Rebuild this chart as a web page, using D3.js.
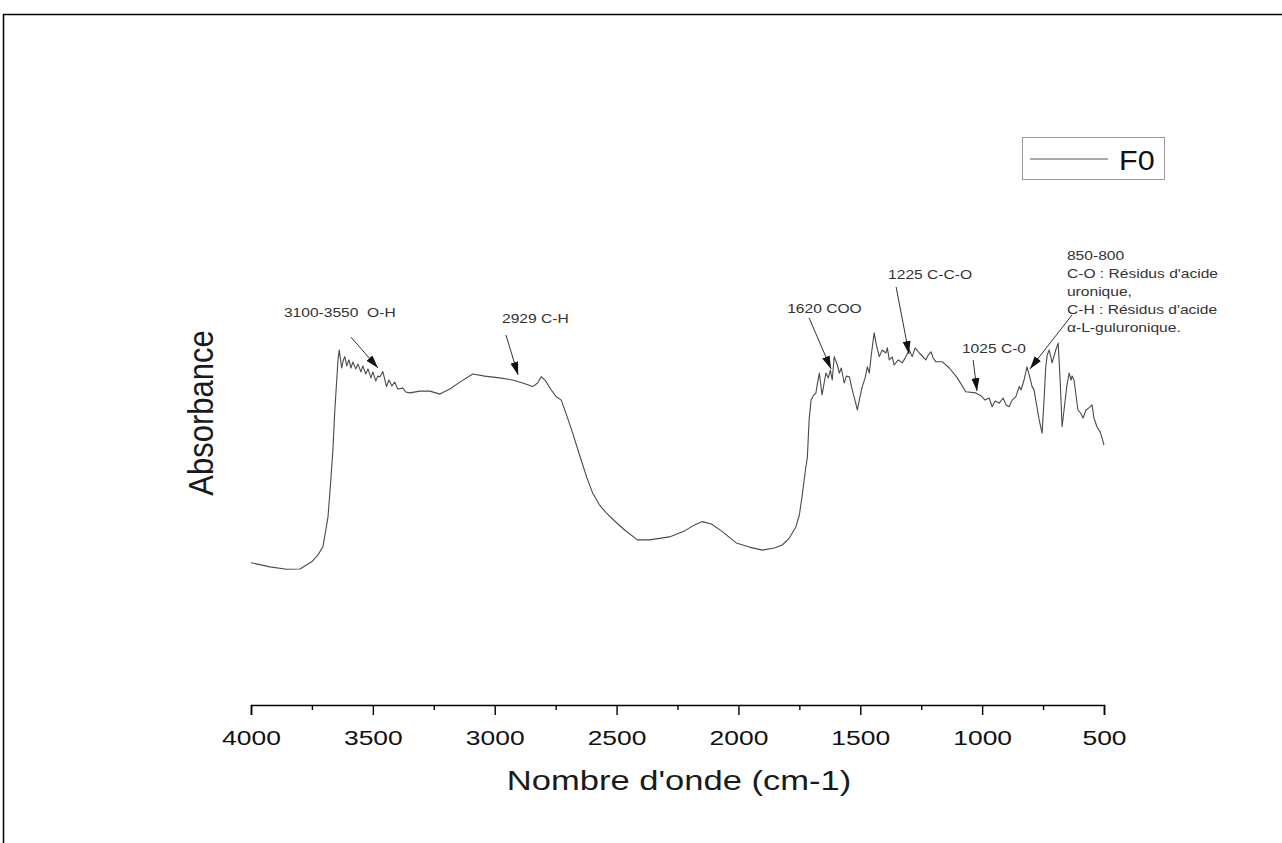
<!DOCTYPE html>
<html>
<head>
<meta charset="utf-8">
<script src="https://cdn.jsdelivr.net/npm/d3@7"></script>
<style>
  html, body { margin: 0; padding: 0; background: #fff; }
  svg { display: block; font-family: Arial, "Liberation Sans", sans-serif; }
  text { white-space: pre; }
</style>
</head>
<body>
<svg id="chart" width="1282" height="843"></svg>
<script>
// ---- data ----
const wavenumbers = [4000,3922,3854,3799,3751,3725,3705,3693,3684,3674,3664,3656,3649,3643,3638,3628,3621,3615,3607,3598,3590,3582,3570,3561,3549,3541,3529,3520,3508,3500,3488,3480,3471,3459,3444,3434,3422,3410,3398,3377,3365,3348,3307,3266,3225,3184,3143,3090,3041,2980,2926,2885,2844,2824,2809,2791,2771,2747,2727,2705,2680,2652,2623,2598,2570,2542,2508,2467,2414,2365,2283,2221,2180,2148,2111,2070,2009,1955,1902,1852,1820,1791,1764,1750,1738,1725,1717,1710,1702,1693,1682,1677,1668,1657,1652,1641,1631,1623,1615,1607,1594,1586,1578,1566,1557,1545,1533,1520,1512,1504,1492,1480,1471,1463,1455,1443,1434,1422,1410,1395,1389,1381,1369,1361,1344,1328,1316,1299,1287,1275,1258,1246,1231,1221,1210,1201,1190,1164,1135,1102,1067,1026,1004,988,971,959,947,930,914,902,889,877,862,848,840,828,816,807,795,787,780,766,754,746,739,733,725,717,713,705,698,688,680,672,664,652,643,635,631,623,615,607,596,586,574,562,549,541,529,516,508,500];
const absorbanceF0 = [.191,.177,.169,.170,.194,.217,.244,.300,.344,.45,.567,.70,.79,.867,.90,.84,.867,.878,.847,.867,.84,.86,.837,.853,.827,.847,.82,.837,.807,.827,.797,.813,.811,.828,.778,.80,.78,.793,.77,.773,.76,.757,.763,.763,.753,.77,.793,.82,.813,.807,.80,.79,.778,.79,.811,.797,.77,.744,.733,.683,.623,.55,.477,.423,.383,.357,.33,.30,.267,.267,.277,.297,.317,.328,.32,.297,.257,.243,.233,.24,.25,.273,.311,.35,.417,.50,.544,.667,.733,.747,.757,.783,.823,.75,.773,.823,.807,.833,.80,.878,.85,.823,.84,.79,.813,.811,.767,.727,.70,.733,.778,.807,.844,.823,.883,.957,.917,.878,.90,.89,.907,.867,.877,.85,.867,.857,.873,.90,.878,.907,.89,.88,.867,.883,.894,.873,.861,.861,.84,.807,.761,.757,.747,.733,.74,.711,.73,.723,.74,.717,.711,.733,.744,.778,.767,.80,.844,.817,.778,.767,.733,.667,.623,.733,.844,.883,.90,.873,.857,.88,.90,.923,.80,.644,.70,.783,.823,.80,.813,.80,.75,.70,.69,.673,.70,.707,.717,.673,.644,.627,.607,.583];
const majorTicks = [4000,3500,3000,2500,2000,1500,1000,500];
const tickLabels = ["4000","3500","3000","2500","2000","1500","1000","500"];
const minorTicks = [3750,3250,2750,2250,1750,1250,750];
const seriesName = "F0";
const xTitle = "Nombre d'onde (cm-1)";
const yTitle = "Absorbance";
// annotations: label lines, text anchor (wn, abs), arrow tail (wn, abs), arrow tip (wn, abs)
const annLabels = [["3100-3550  O-H"],["2929 C-H"],["1620 COO"],["1225 C-C-O"],["1025 C-0"],
  ["850-800","C-O : Résidus d'acide","uronique,","C-H : Résidus d'acide","α-L-guluronique."]];
const annTextWn  = [3865, 2970, 1800, 1386, 1083, 652];
const annTextAbs = [1.01, 0.99, 1.023, 1.137, 0.89, 1.20];
const annTailWn  = [3590, 2954, 1710, 1353, 1037, 631];
const annTailAbs = [0.943, 0.95, 1.007, 1.11, 0.867, 1.017];
const annTipWn   = [3479, 2904, 1620, 1300, 1021, 804];
const annTipAbs  = [0.84, 0.817, 0.837, 0.887, 0.763, 0.837];

// ---- layout ----
const svg = d3.select("#chart");
const x = d3.scaleLinear().domain([4000, 500]).range([251, 1104]);
const y = d3.scaleLinear().domain([0, 1]).range([620, 320]);
const axisY = 705;
const SX = 1.26; // horizontal stretch of text in the reference

function stext(g, px, py, str, size, sx, anchor, fill) {
  return g.append("text")
    .attr("transform", `translate(${px},${py}) scale(${sx},1)`)
    .attr("font-size", size)
    .attr("text-anchor", anchor)
    .attr("fill", fill || "#000")
    .attr("xml:space", "preserve")
    .text(str);
}

// frame
svg.append("path").attr("d", "M3.5,843 L3.5,14.5 L1282,14.5")
  .attr("fill", "none").attr("stroke", "#000").attr("stroke-width", 1.5);

// x axis
const gx = svg.append("g").attr("transform", `translate(0,${axisY})`);
gx.call(d3.axisBottom(x).tickValues(majorTicks).tickSize(10).tickFormat((d, i) => tickLabels[i]));
gx.select(".domain").attr("stroke", "#000").attr("stroke-width", 1.6);
gx.selectAll(".tick line").attr("stroke", "#000").attr("stroke-width", 1.4);
gx.selectAll(".tick text").attr("font-size", 21).attr("font-family", 'Arial, "Liberation Sans", sans-serif')
  .attr("fill", "#111").attr("y", 40).attr("dy", 0).attr("transform", `scale(${SX},1)`);
const gm = svg.append("g").attr("transform", `translate(0,${axisY})`);
gm.call(d3.axisBottom(x).tickValues(minorTicks).tickSize(5).tickFormat(""));
gm.select(".domain").remove();
gm.selectAll(".tick line").attr("stroke", "#000").attr("stroke-width", 1.4);

// axis titles
stext(svg, 679, 790, xTitle, 27, 1.28, "middle", "#1a1a1a");
svg.append("text")
  .attr("transform", "translate(213,413) rotate(-90) scale(1,1.12)")
  .attr("font-size", 31).attr("text-anchor", "middle").attr("fill", "#1a1a1a").text(yTitle);

// spectrum
const pts = wavenumbers.map((w, i) => [w, absorbanceF0[i]]).filter(d => d[1] !== undefined);
svg.append("path").datum(pts)
  .attr("fill", "none").attr("stroke", "#4a4a4a").attr("stroke-width", 1.1)
  .attr("stroke-linejoin", "round")
  .attr("d", d3.line().x(d => x(d[0])).y(d => y(d[1])));

// arrow marker
svg.append("defs").append("marker")
  .attr("id", "ah").attr("markerUnits", "userSpaceOnUse")
  .attr("markerWidth", 14).attr("markerHeight", 10)
  .attr("refX", 13).attr("refY", 5).attr("orient", "auto")
  .append("path").attr("d", "M0,1 L13,5 L0,9 Z").attr("fill", "#111");

// annotations
annLabels.forEach((lines, i) => {
  const tx = x(annTextWn[i]), ty = y(annTextAbs[i]);
  lines.forEach((ln, j) => stext(svg, tx, ty + j * 18, ln, 13, 1.2, "start", "#333"));
  svg.append("line")
    .attr("x1", x(annTailWn[i])).attr("y1", y(annTailAbs[i]))
    .attr("x2", x(annTipWn[i])).attr("y2", y(annTipAbs[i]))
    .attr("stroke", "#333").attr("stroke-width", 1)
    .attr("marker-end", "url(#ah)");
});

// legend
const lg = svg.append("g");
lg.append("rect").attr("x", 1022.5).attr("y", 137.5).attr("width", 142).attr("height", 42)
  .attr("fill", "#fff").attr("stroke", "#999").attr("stroke-width", 1);
lg.append("line").attr("x1", 1030).attr("x2", 1108).attr("y1", 159).attr("y2", 159)
  .attr("stroke", "#555").attr("stroke-width", 1.1);
stext(lg, 1119, 170, seriesName, 27, 1.13, "start", "#111");
</script>
</body>
</html>
